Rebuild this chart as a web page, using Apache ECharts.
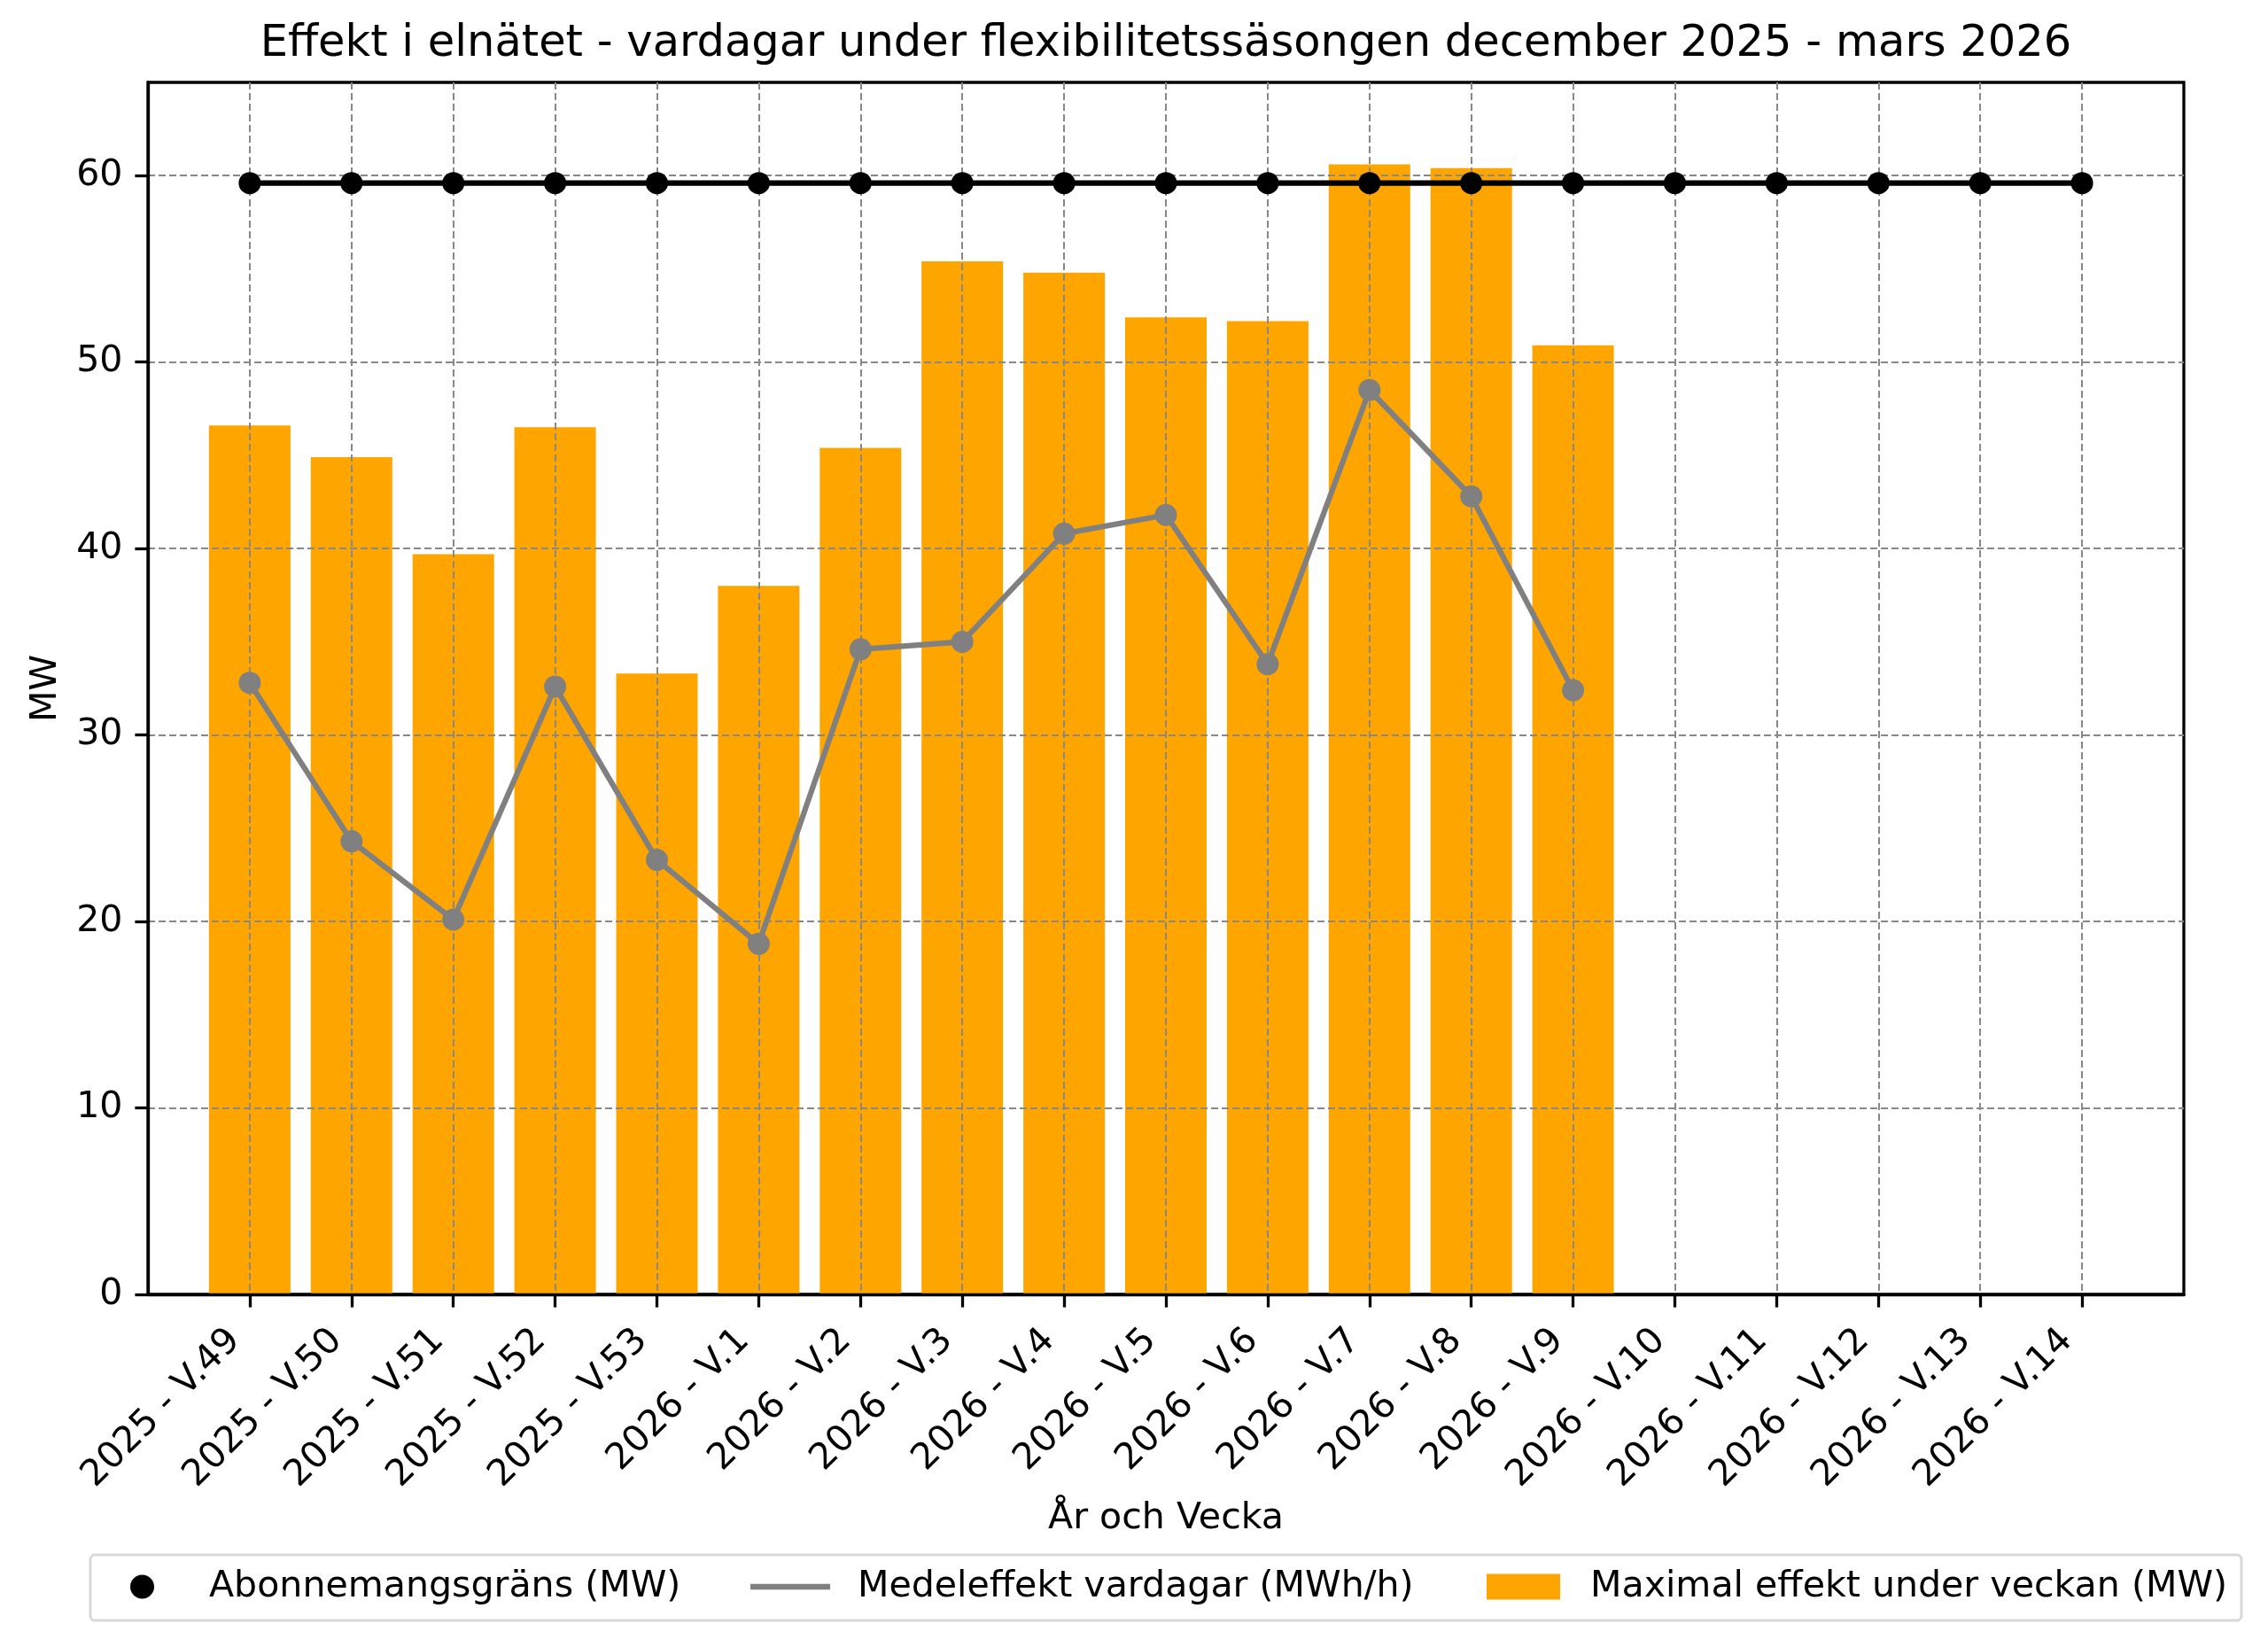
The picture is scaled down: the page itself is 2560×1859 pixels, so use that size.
<!DOCTYPE html>
<html>
<head>
<meta charset="utf-8">
<script src="https://cdn.jsdelivr.net/npm/echarts@6/dist/echarts.min.js"></script>
<style>
  html, body { margin: 0; padding: 0; background: #fff; }
  #chart { width: 2560px; height: 1859px; }
</style>
</head>
<body>
<div id="chart"></div>
<script>
const categories = ['2025 - V.49', '2025 - V.50', '2025 - V.51', '2025 - V.52', '2025 - V.53',
  '2026 - V.1', '2026 - V.2', '2026 - V.3', '2026 - V.4', '2026 - V.5', '2026 - V.6', '2026 - V.7',
  '2026 - V.8', '2026 - V.9', '2026 - V.10', '2026 - V.11', '2026 - V.12', '2026 - V.13', '2026 - V.14'];
const limitMW = [59.6, 59.6, 59.6, 59.6, 59.6, 59.6, 59.6, 59.6, 59.6, 59.6, 59.6, 59.6, 59.6, 59.6, 59.6, 59.6, 59.6, 59.6, 59.6];
const avgMWh = [32.8, 24.3, 20.1, 32.6, 23.3, 18.8, 34.6, 35.0, 40.8, 41.8, 33.8, 48.5, 42.8, 32.4];
const maxMW = [46.6, 44.9, 39.7, 46.5, 33.3, 38.0, 45.4, 55.4, 54.8, 52.4, 52.2, 60.6, 60.4, 50.9];
const yTickValues = [0, 10, 20, 30, 40, 50, 60];

const NAME_LIMIT = 'Abonnemangsgräns (MW)';
const NAME_AVG = 'Medeleffekt vardagar (MWh/h)';
const NAME_MAX = 'Maximal effekt under veckan (MW)';

const FONT = 'DejaVu Sans';
const FS = 41.1;
const xIdx = categories.map((c, i) => i);
const toPairs = arr => arr.map((v, i) => [i, v]);

function legendItem(name, left, iconW, iconH, icon, color, pad) {
  return {
    left: left, top: 1767, orient: 'horizontal', padding: 0,
    itemWidth: iconW, itemHeight: iconH, symbolKeepAspect: true,
    selectedMode: false,
    formatter: '{p| }{name}',
    textStyle: {
      fontFamily: FONT, fontSize: FS, color: '#000', lineHeight: 48,
      rich: { p: { width: pad, fontSize: FS, lineHeight: 48 } }
    },
    data: [{ name: name, icon: icon, itemStyle: { color: color, borderWidth: 0 } }]
  };
}

const chart = echarts.init(document.getElementById('chart'), null, { renderer: 'canvas' });
chart.setOption({
  animation: false,
  backgroundColor: '#ffffff',
  textStyle: { fontFamily: FONT, color: '#000' },
  title: {
    text: 'Effekt i elnätet - vardagar under flexibilitetssäsongen december 2025 - mars 2026',
    left: 1316, top: 21, textAlign: 'center', padding: 0,
    textStyle: { fontFamily: FONT, fontSize: 49.5, fontWeight: 'normal', color: '#000', lineHeight: 58 }
  },
  graphic: [{
    type: 'rect', z: 1,
    shape: { x: 102, y: 1755, width: 2428, height: 74, r: 5 },
    style: { fill: '#ffffff', stroke: '#d9d9d9', lineWidth: 3 }
  }],
  grid: {
    left: 167, right: 95, top: 93, bottom: 398,
    show: true, borderColor: '#000', borderWidth: 3.3, backgroundColor: 'transparent'
  },
  legend: [
    legendItem(NAME_LIMIT, 147, 27, 27, 'circle', '#000', 57),
    legendItem(NAME_AVG, 847, 90, 28, 'path://M0,0H90V6.5H0Z', '#808080', 26),
    legendItem(NAME_MAX, 1678, 83, 29, 'rect', '#FFA500', 29)
  ],
  xAxis: {
    type: 'value', min: -1, max: 19, interval: 1, z: 3,
    name: 'År och Vecka', nameLocation: 'middle', nameGap: 229,
    nameTextStyle: { fontFamily: FONT, fontSize: FS, color: '#000', lineHeight: 42 },
    axisLine: { show: true, onZero: false, lineStyle: { color: '#000', width: 3.3 } },
    axisTick: { show: true, length: 14.6, lineStyle: { color: '#000', width: 3.3 }, customValues: xIdx },
    axisLabel: {
      customValues: xIdx, rotate: 45, margin: 29,
      fontFamily: FONT, fontSize: FS, color: '#000', padding: [0, 24, 0, 0],
      formatter: v => categories[Math.round(v)] || ''
    },
    splitLine: { show: true, lineStyle: { color: '#888888', width: 2, type: [8, 4] } }
  },
  yAxis: {
    type: 'value', min: 0, max: 65, interval: 10, z: 3,
    name: 'MW', nameLocation: 'middle', nameGap: 94, nameRotate: 90,
    nameTextStyle: { fontFamily: FONT, fontSize: FS, color: '#000' },
    axisLine: { show: true, onZero: false, lineStyle: { color: '#000', width: 3.3 } },
    axisTick: { show: true, length: 14.6, lineStyle: { color: '#000', width: 3.3 }, customValues: yTickValues },
    axisLabel: { customValues: yTickValues, margin: 28.5, fontFamily: FONT, fontSize: FS, color: '#000' },
    splitLine: { show: true, lineStyle: { color: '#888888', width: 2, type: [8, 4] } }
  },
  series: [
    {
      name: NAME_MAX, type: 'bar', z: 2,
      data: toPairs(maxMW), barWidth: 92,
      itemStyle: { color: '#FFA500' }
    },
    {
      name: NAME_AVG, type: 'line', z: 5,
      data: toPairs(avgMWh),
      symbol: 'circle', symbolSize: 25, showSymbol: true,
      lineStyle: { color: '#808080', width: 6.25 },
      itemStyle: { color: '#808080' }
    },
    {
      name: NAME_LIMIT, type: 'line', z: 6,
      data: toPairs(limitMW),
      symbol: 'circle', symbolSize: 25, showSymbol: true,
      lineStyle: { color: '#000', width: 6.25 },
      itemStyle: { color: '#000' }
    }
  ]
});
</script>
</body>
</html>
